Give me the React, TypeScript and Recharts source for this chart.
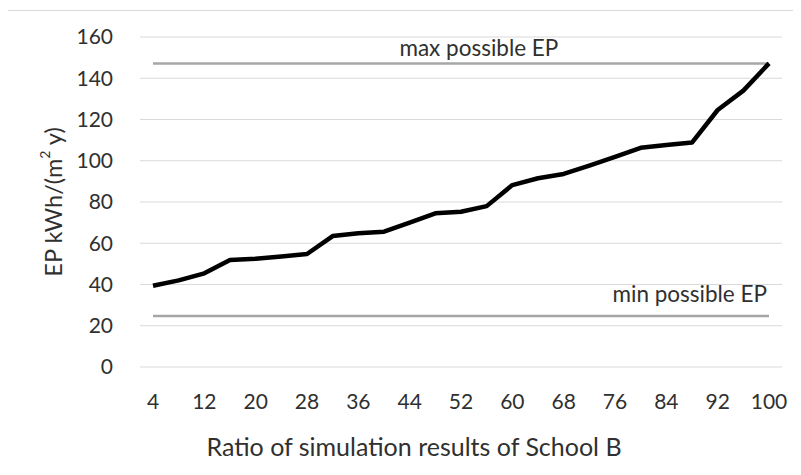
import { CartesianGrid, Line, LineChart, ReferenceLine, XAxis, YAxis } from "recharts"

// share of simulation runs (%)
const ratios = [4, 8, 12, 16, 20, 24, 28, 32, 36, 40, 44, 48, 52, 56, 60, 64, 68, 72, 76, 80, 84, 88, 92, 96, 100]
// primary energy, kWh/(m2 y)
const epValues = [
  39.4, 42.0, 45.4, 51.9, 52.5, 53.6, 54.8, 63.5, 64.8, 65.6, 70.0, 74.5, 75.3,
  78.0, 88.2, 91.5, 93.6, 97.6, 101.9, 106.3, 107.6, 108.8, 124.6, 134.0, 147.2,
]
const yTicks = [0, 20, 40, 60, 80, 100, 120, 140, 160]
const maxEP = 147.2
const minEP = 24.7

const data = ratios.map((r, i) => ({ ratio: r, ep: epValues[i] }))

const FONT = "Lato, 'Open Sans', sans-serif"
const TEXT = "#303030"

export default function App() {
  return (
    <div
      style={{
        position: "relative",
        width: 810,
        height: 480,
        marginLeft: -1,
        marginTop: 2,
        border: "1px solid #d9d9d9",
        fontFamily: FONT,
      }}
    >
      <LineChart
        width={800}
        height={470}
        data={data}
        margin={{ top: 26, right: 26, left: 0, bottom: 14 }}
      >
        <CartesianGrid stroke="#d9d9d9" vertical={false} />
        <XAxis
          dataKey="ratio"
          interval={1}
          axisLine={false}
          tickLine={false}
          tickSize={0}
          tickMargin={27}
          height={100}
          padding={{ left: 13, right: 13 }}
          tick={{ fill: TEXT, fontSize: 21, fontFamily: FONT }}
          label={() => (
            <text x={406} y={445} textAnchor="middle" fill={TEXT} fontSize={25} fontFamily={FONT}>
              Ratio of simulation results of School B
            </text>
          )}
        />
        <YAxis
          domain={[0, 160]}
          ticks={yTicks}
          axisLine={false}
          tickLine={false}
          tickSize={0}
          tickMargin={27}
          width={132}
          tick={{ fill: TEXT, fontSize: 21, fontFamily: FONT }}
          label={() => (
            <text
              x={45}
              y={191}
              transform="rotate(-90 45 191)"
              textAnchor="middle"
              dominantBaseline="central"
              fill={TEXT}
              fontSize={23.5}
              fontFamily={FONT}
            >
              EP kWh/(m
              <tspan fontSize={14} dy={-9}>2</tspan>
              <tspan dy={9}> y)</tspan>
            </text>
          )}
        />
        <ReferenceLine
          segment={[
            { x: 4, y: maxEP },
            { x: 100, y: maxEP },
          ]}
          stroke="#a6a6a6"
          strokeWidth={2.5}
          label={({ viewBox }: any) => (
            <text
              x={viewBox.x + viewBox.width * 0.4}
              y={viewBox.y - 7}
              fill={TEXT}
              fontSize={22.5}
              fontFamily={FONT}
            >
              max possible EP
            </text>
          )}
        />
        <ReferenceLine
          segment={[
            { x: 4, y: minEP },
            { x: 100, y: minEP },
          ]}
          stroke="#a6a6a6"
          strokeWidth={2.5}
          label={({ viewBox }: any) => (
            <text
              x={viewBox.x + viewBox.width - 2}
              y={viewBox.y - 14}
              textAnchor="end"
              fill={TEXT}
              fontSize={22.5}
              fontFamily={FONT}
            >
              min possible EP
            </text>
          )}
        />
        <Line
          type="linear"
          dataKey="ep"
          stroke="#000"
          strokeWidth={4.5}
          strokeLinejoin="round"
          dot={false}
          isAnimationActive={false}
        />
      </LineChart>
    </div>
  )
}
